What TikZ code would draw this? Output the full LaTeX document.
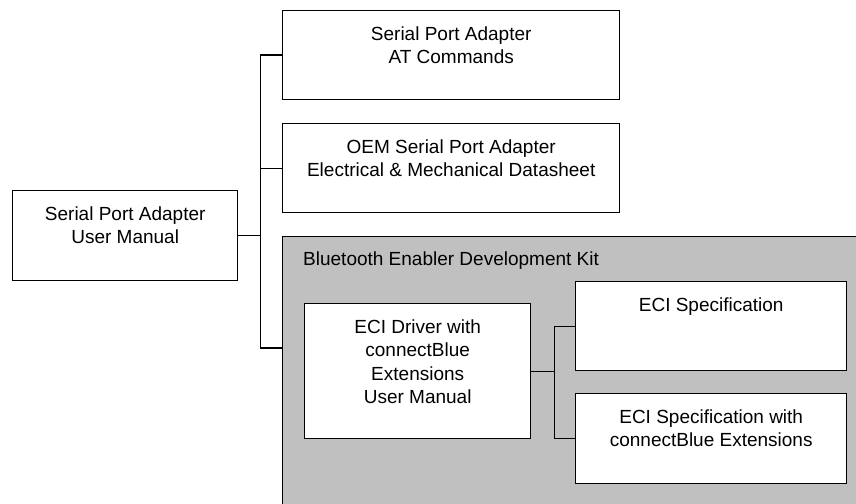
\documentclass[tikz,border=0pt]{standalone}
\usepackage{fontspec}
\setmainfont{Liberation Sans}
\usetikzlibrary{calc}
\definecolor{kitgray}{RGB}{192,192,192}
\tikzset{
  doc/.style={draw, fill=white, line width=1.4pt, inner sep=0pt, anchor=north west},
  doctext/.style={anchor=north, inner sep=0pt, yshift=-16.5pt, align=center, font=\fontsize{19}{23.5}\selectfont},
  link/.style={line width=1.4pt}
}

\begin{document}
\begin{tikzpicture}[x=1pt,y=-1pt]
        \useasboundingbox (0,0) rectangle (856,503);
        % development kit, runs off the page on the right and at the bottom
        \node[doc, fill=kitgray, minimum width=620pt, minimum height=300pt] (kit) at (282,236) {};
        \node[anchor=north west, inner sep=0pt, font=\fontsize{19}{23.5}\selectfont] (kittitle) at ($(kit.north west)+(21,16)$) {Bluetooth Enabler Development Kit};
        % documents
        \node[doc, minimum width=225pt, minimum height=90pt, label={[doctext]north:Serial Port Adapter\\User Manual}] (man) at (12,190) {};
        \node[doc, minimum width=337pt, minimum height=89pt, label={[doctext]north:Serial Port Adapter\\AT Commands}] (atc) at (282,10) {};
        \node[doc, minimum width=337pt, minimum height=89pt, label={[doctext]north:OEM Serial Port Adapter\\Electrical \& Mechanical Datasheet}] (oem) at (282,123) {};
        \node[doc, minimum width=226pt, minimum height=135pt, label={[doctext]north:ECI Driver with\\connectBlue\\Extensions\\User Manual}] (drv) at (304,303) {};
        \node[doc, minimum width=271pt, minimum height=89pt, label={[doctext]north:ECI Specification}] (spec) at (575,281) {};
        \node[doc, minimum width=271pt, minimum height=90pt, label={[doctext]north:ECI Specification with\\connectBlue Extensions}] (specx) at (575,393) {};
        % connectors
        \coordinate (j1) at ($(man.east)+(22,0)$);
        \coordinate (kitin) at (282,348);
        \draw[link] (man.east) -- (j1);
        \draw[link] (atc.west) -| (j1) |- (kitin);
        \draw[link] (oem.west) -- (oem.west -| j1);
        \coordinate (j2) at ($(drv.east)+(23,0)$);
        \draw[link] (drv.east) -- (j2);
        \draw[link] (spec.west) -| (j2) |- (specx.west);
    \end{tikzpicture}
\end{document}
